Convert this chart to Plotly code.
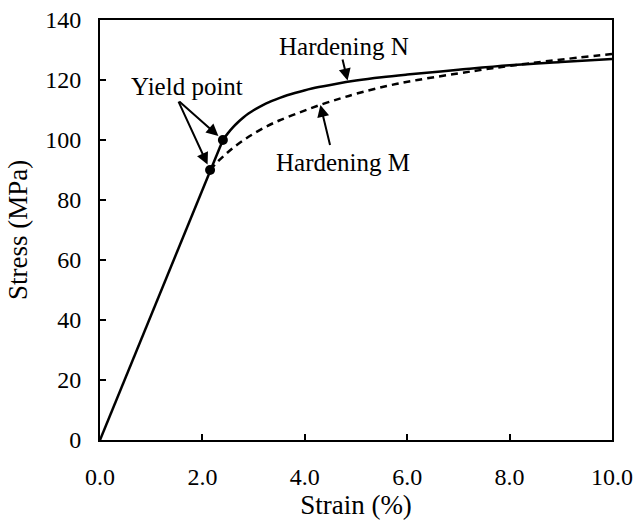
import plotly.graph_objects as go

# Data
elastic_x = [0.0, 2.4]
elastic_y = [0.0, 100.0]
n_x = [2.4, 2.5, 2.6, 2.7, 2.8, 2.9, 3.0, 3.2, 3.4, 3.6, 3.9, 4.2, 4.6, 5.0, 5.5, 6.0, 7.0, 8.0, 9.0, 10.0]
n_y = [100.0, 102.3, 104.3, 106.0, 107.5, 108.8, 109.9, 111.8, 113.3, 114.6, 116.1, 117.4, 118.7, 119.8, 120.9, 121.8, 123.4, 124.9, 126.0, 127.0]
m_x = [2.15, 2.3, 2.45, 2.6, 2.8, 3.0, 3.25, 3.5, 3.9, 4.3, 4.7, 5.0, 5.6, 6.2, 7.0, 7.5, 8.0, 8.8, 10.0]
m_y = [90.0, 92.8, 95.2, 97.4, 99.9, 102.1, 104.5, 106.5, 109.2, 111.7, 113.9, 115.4, 118.0, 120.0, 122.2, 123.5, 124.7, 126.4, 128.7]
yield_x = [2.15, 2.4]
yield_y = [90.0, 100.0]
x_ticks = [0, 2, 4, 6, 8, 10]
y_ticks = [0, 20, 40, 60, 80, 100, 120, 140]

FONT = "Liberation Serif"

fig = go.Figure()
fig.add_trace(go.Scatter(x=elastic_x, y=elastic_y, mode="lines",
                         line=dict(color="black", width=2.5), showlegend=False))
fig.add_trace(go.Scatter(x=n_x, y=n_y, mode="lines", line_shape="spline",
                         line=dict(color="black", width=2.5), showlegend=False))
fig.add_trace(go.Scatter(x=m_x, y=m_y, mode="lines", line_shape="spline",
                         line=dict(color="black", width=2.5, dash="7px,5px"), showlegend=False))
fig.add_trace(go.Scatter(x=yield_x, y=yield_y, mode="markers",
                         marker=dict(color="black", size=10), showlegend=False))

ann = []
ann.append(dict(x=1.70, y=118, text="Yield point", showarrow=False, xref="x", yref="y",
                font=dict(family=FONT, size=25, color="black")))
ann.append(dict(x=4.77, y=131.3, text="Hardening N", showarrow=False, xref="x", yref="y",
                font=dict(family=FONT, size=25, color="black")))
ann.append(dict(x=4.75, y=92.5, text="Hardening M", showarrow=False, xref="x", yref="y",
                font=dict(family=FONT, size=25, color="black")))
arrow_specs = [
    (yield_x[1], yield_y[1], 1.52, 113.3, 6),
    (yield_x[0], yield_y[0], 1.52, 113.3, 6),
    (4.84, 119.5, 4.73, 127.3, 1),
    (4.30, 112.0, 4.50, 97.8, 1),
]
for (tx, ty, sx, sy, so) in arrow_specs:
    ann.append(dict(x=tx, y=ty, ax=sx, ay=sy, xref="x", yref="y", axref="x", ayref="y",
                    text="", showarrow=True, arrowhead=2, arrowsize=1.2, arrowwidth=2,
                    arrowcolor="black", standoff=so))

fig.update_layout(
    width=636, height=521,
    margin=dict(l=100, r=24, t=20, b=81),
    paper_bgcolor="white", plot_bgcolor="white",
    font=dict(family=FONT, size=24, color="black"),
    annotations=ann,
)
fig.update_xaxes(range=[0, 10], tickvals=x_ticks, ticktext=[f"{v:.1f}" for v in x_ticks],
                 showgrid=False, zeroline=False, showline=True, linecolor="black", linewidth=2,
                 mirror=True, ticks="inside", ticklen=6, tickwidth=2, tickcolor="black",
                 ticklabelstandoff=14, automargin=False, ticklabeloverflow="allow",
                 title=dict(text="Strain (%)", font=dict(size=27), standoff=6),
                 tickfont=dict(size=24))
fig.update_yaxes(range=[0, 140], tickvals=y_ticks,
                 showgrid=False, zeroline=False, showline=True, linecolor="black", linewidth=2,
                 mirror=True, ticks="inside", ticklen=6, tickwidth=2, tickcolor="black",
                 ticklabelstandoff=12, automargin=False, ticklabeloverflow="allow",
                 title=dict(text="Stress (MPa)", font=dict(size=27), standoff=10),
                 tickfont=dict(size=24))

fig.write_html("out.html", config={"displayModeBar": False},
               post_script="document.body.style.margin='0';")
